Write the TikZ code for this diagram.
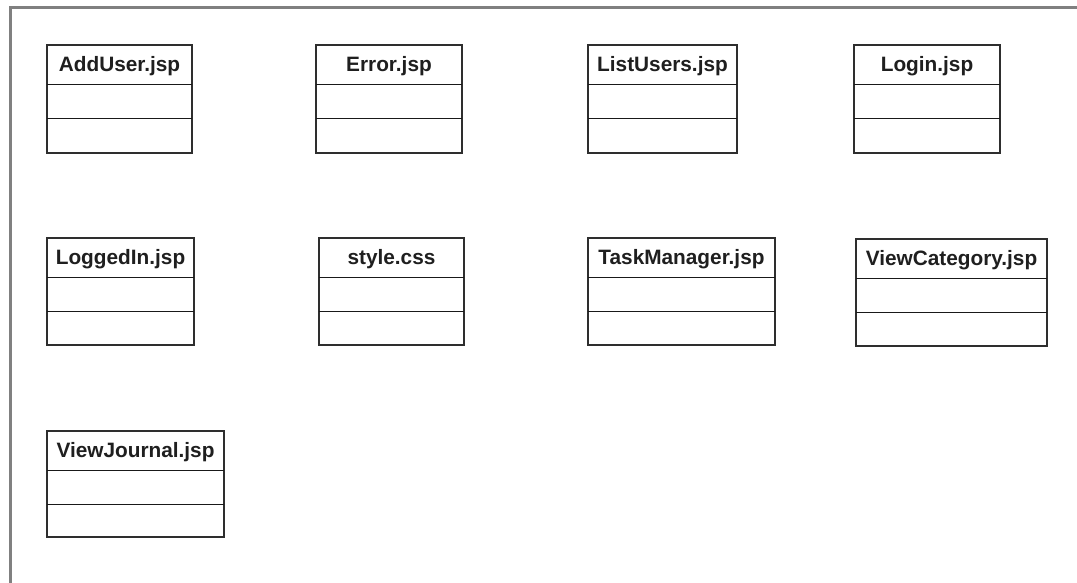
\documentclass[tikz,border=0pt]{standalone}
\usepackage{fontspec}
\setmainfont{Liberation Sans}
\usetikzlibrary{calc}

\tikzset{
  classbox/.style={draw=black!82, line width=1.3pt, rectangle, inner sep=0pt, outer sep=0pt, fill=white},
  classname/.style={anchor=base, inner sep=0pt, font=\fontsize{15.6}{18}\selectfont\bfseries, text=black!88},
  divider/.style={draw=black!90, line width=1.1pt},
  frameline/.style={draw=black!50, line width=2.2pt},
}

% UML class box: name, x1, y1, x2, y2, label (pixel units)
\newcommand\umlclass[6]{%
  \node[classbox, minimum width={(#4-#2)*0.75pt}, minimum height={(#5-#3)*0.75pt}]
    (#1) at ({(#2+#4)/2},{(#3+#5)/2}) {};
  \node[classname] (#1-name) at ($(#1.north)+(0,26)$) {#6};
  \draw[divider] ($(#1.north west)+(0,39.5)$) -- ($(#1.north east)+(0,39.5)$);
  \draw[divider] ($(#1.north west)+(0,73.5)$) -- ($(#1.north east)+(0,73.5)$);
}

\begin{document}
\begin{tikzpicture}[x=0.75pt, y=-0.75pt]
  \useasboundingbox (0,0) rectangle (1077,582);

  % diagram frame
  \coordinate (frame-bl) at (10.5,590);
  \coordinate (frame-tl) at (10.5,7.5);
  \coordinate (frame-tr) at (1085,7.5);
  \draw[frameline] (frame-bl) -- (frame-tl) -- (frame-tr);

  % first row
  \umlclass{adduser}{47}{45}{192}{153}{AddUser.jsp}
  \umlclass{error}{316}{45}{462}{153}{Error.jsp}
  \umlclass{listusers}{588}{45}{737}{153}{ListUsers.jsp}
  \umlclass{login}{854}{45}{1000}{153}{Login.jsp}

  % second row
  \umlclass{loggedin}{47}{238}{194}{345}{LoggedIn.jsp}
  \umlclass{style}{319}{238}{464}{345}{style.css}
  \umlclass{taskmanager}{588}{238}{775}{345}{TaskManager.jsp}
  \umlclass{viewcategory}{856}{239}{1047}{346}{ViewCategory.jsp}

  % third row
  \umlclass{viewjournal}{47}{431}{224}{537}{ViewJournal.jsp}
\end{tikzpicture}
\end{document}
